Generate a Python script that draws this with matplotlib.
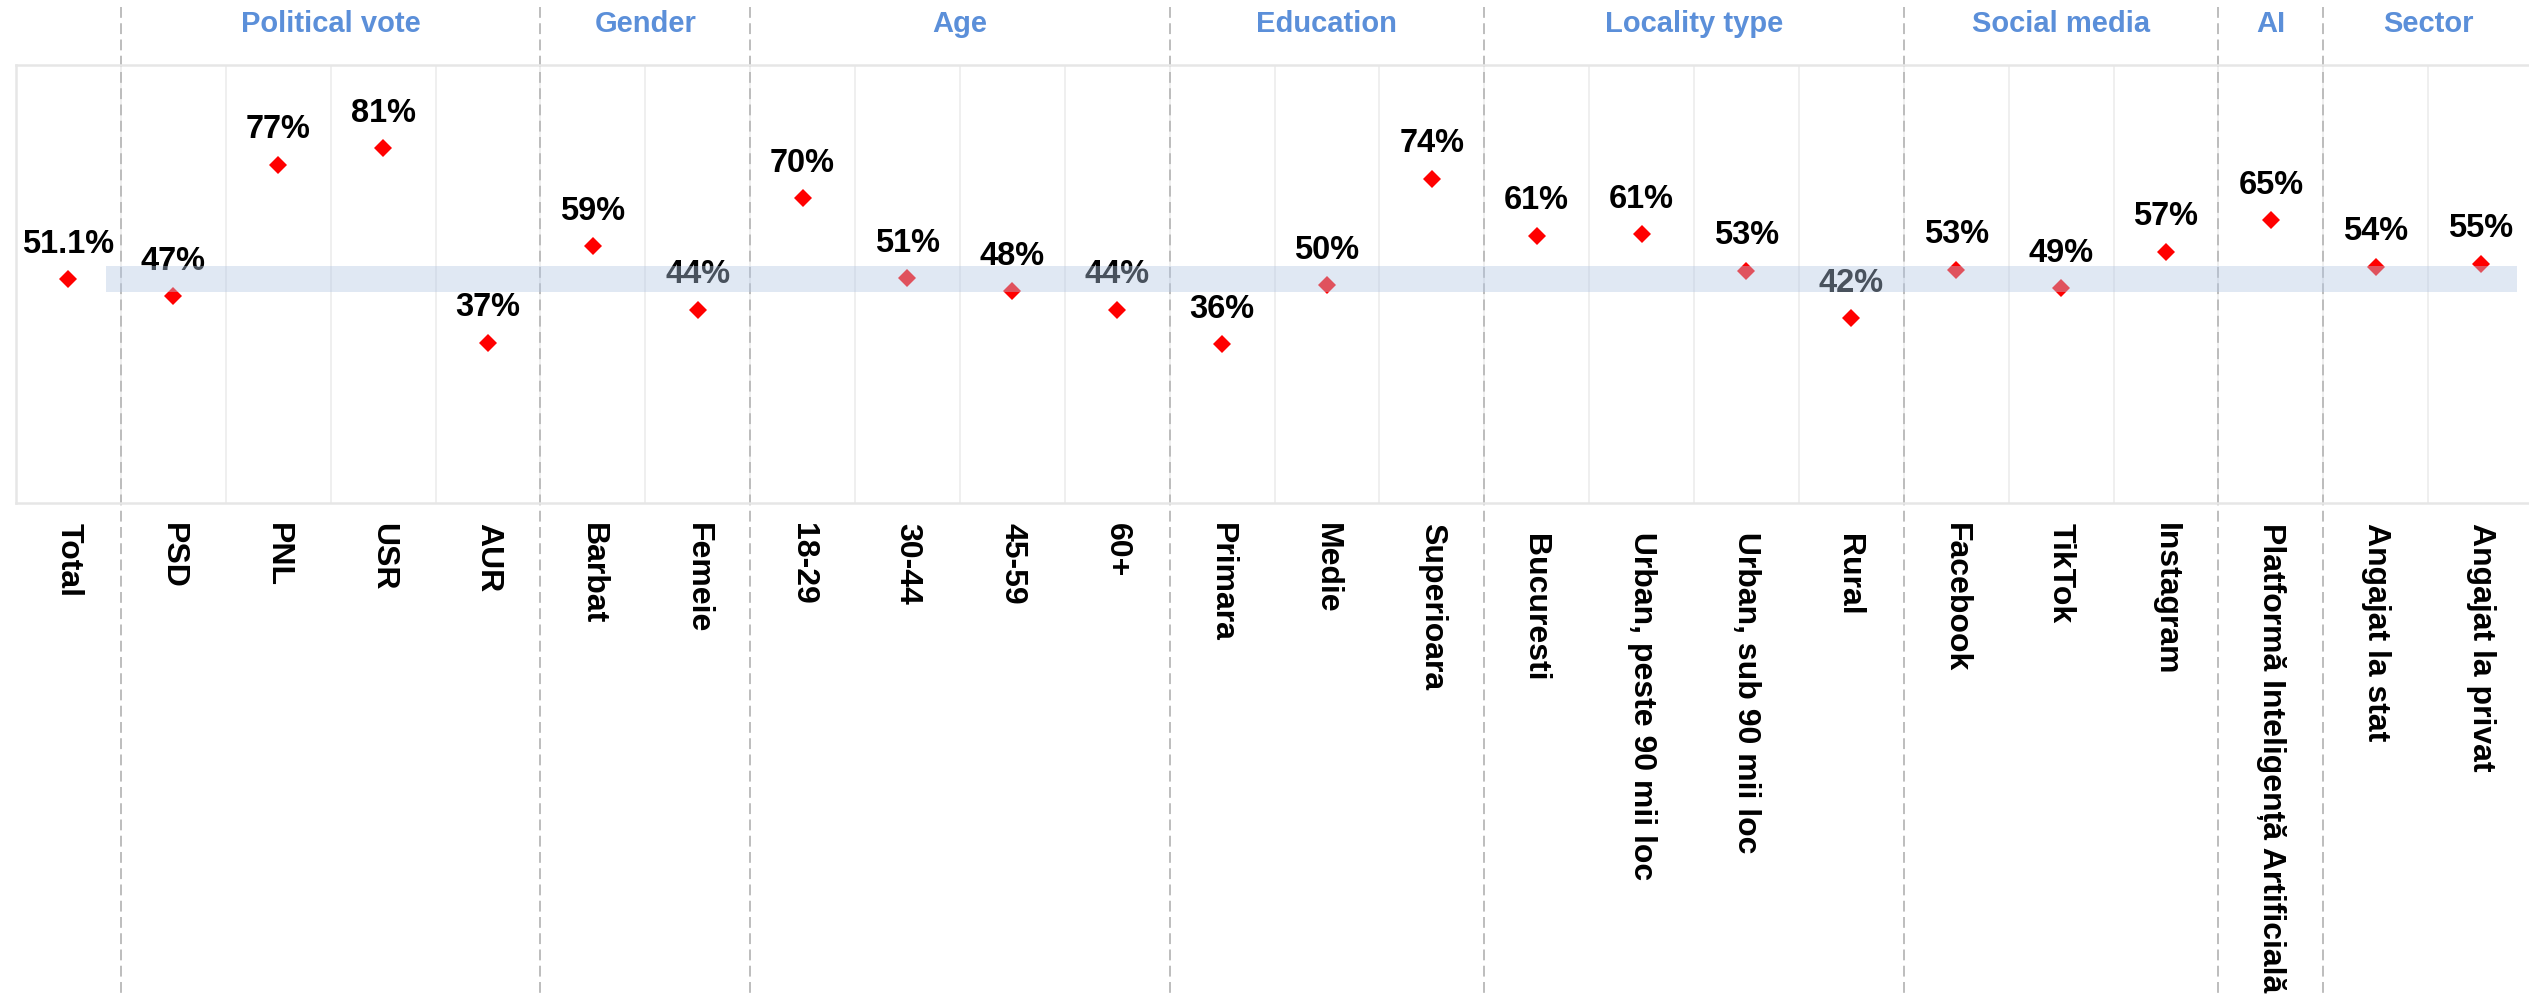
import matplotlib.pyplot as plt
import numpy as np

CATEGORIES = [
    "Total",
    "PSD", "PNL", "USR", "AUR",
    "Barbat", "Femeie",
    "18-29", "30-44", "45-59", "60+",
    "Primara", "Medie", "Superioara",
    " Bucuresti", " Urban, peste 90 mii loc", " Urban, sub 90 mii loc", " Rural",
    "Facebook", "TikTok", "Instagram",
    "Platformă Inteligență Artificială",
    "Angajat la stat", "Angajat la privat",
]
VALUES = [
    51.1,
    47.2, 77.2, 81.0, 36.6,
    58.6, 44.1,
    69.6, 51.3, 48.3, 44.1,
    36.3, 49.7, 74.0,
    61.0, 61.4, 53.0, 42.2,
    53.3, 49.0, 57.4,
    64.6,
    53.9, 54.6,
]
GROUPS = ["Political vote", "Gender", "Age", "Education", "Locality type", "Social media", "AI", "Sector"]
GROUP_SIZES = [4, 2, 4, 3, 4, 3, 1, 2]
BAND_HALF_WIDTH = 3.0

W, H = 2529, 995
HEADER_COLOR = "#5b8fd9"
GRID_COLOR = "#ececec"


def main() -> None:
    plt.rcParams["font.family"] = ["Liberation Sans", "DejaVu Sans"]

    fig = plt.figure(figsize=(W / 100, H / 100), dpi=100)
    # axes box in pixels: left 16, top 66, bottom 504 (right runs past the edge)
    ax = fig.add_axes([16 / W, (H - 504) / H, (2533 - 16) / W, 438 / H])

    x = np.arange(len(CATEGORIES))
    ax.plot(x, VALUES, linestyle="none", marker="D", markersize=9,
            color="red", markeredgewidth=0, zorder=4)

    for i, (xi, v) in enumerate(zip(x, VALUES)):
        label = f"{v:.1f}%" if i == 0 else f"{v:.0f}%"
        ax.annotate(label, (xi, v), textcoords="offset points", xytext=(0, 19.8),
                    ha="center", va="baseline", fontsize=23.5, fontweight="bold",
                    color="black", zorder=5)

    # reference band around the total, drawn on top with transparency
    total = VALUES[0]
    ax.fill_between([0.36, len(CATEGORIES) - 1 + 0.35],
                    total - BAND_HALF_WIDTH, total + BAND_HALF_WIDTH,
                    color="#b4c8e4", alpha=0.41, linewidth=0, zorder=10)

    ax.set_xlim(-0.5, len(CATEGORIES) - 0.5)
    ax.set_ylim(0, 100)
    ax.set_yticks([])

    for b in np.arange(0.5, len(CATEGORIES) - 1):
        ax.axvline(b, color=GRID_COLOR, linewidth=1.2, zorder=0)

    for side in ("top", "bottom", "left"):
        ax.spines[side].set_color("#e6e6e6")
        ax.spines[side].set_linewidth(1.8)
    ax.spines["right"].set_visible(False)

    ax.set_xticks(x)
    ax.set_xticklabels(CATEGORIES, rotation=-90, fontsize=23, fontweight="bold")
    ax.tick_params(axis="x", length=0, pad=14)

    # group separators and headers
    trans = ax.get_xaxis_transform()
    y_top = (504 - 8) / 438
    y_bottom = (504 - H) / 438
    y_header = (504 - 32) / 438
    start = 1
    for name, size in zip(GROUPS, GROUP_SIZES):
        ax.plot([start - 0.5, start - 0.5], [y_top, y_bottom], transform=trans,
                color="#b8b8b8", linewidth=1.3, linestyle=(0, (6, 3)),
                clip_on=False, zorder=1)
        center = start + (size - 1) / 2
        ax.text(center, y_header, name, transform=trans, ha="center", va="baseline",
                fontsize=21, fontweight="bold", color=HEADER_COLOR)
        start += size

    fig.savefig("out.png", dpi=100)
    plt.close(fig)


if __name__ == "__main__":
    main()
